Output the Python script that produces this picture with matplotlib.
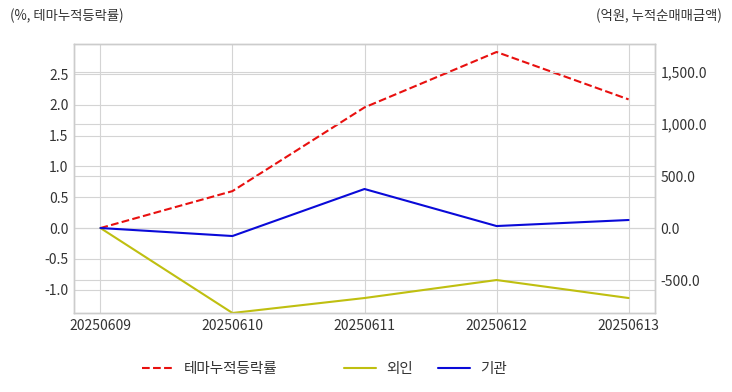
import matplotlib
matplotlib.use('Agg')
import matplotlib.pyplot as plt
import seaborn as sns
from matplotlib.ticker import FuncFormatter

sns.set_style('whitegrid')
plt.rcParams['font.family'] = ['Noto Sans CJK KR', 'DejaVu Sans']
plt.rcParams['axes.unicode_minus'] = False

DATES = ['20250609', '20250610', '20250611', '20250612', '20250613']
THEME_RET = [0.0, 0.60, 1.96, 2.86, 2.09]      # %, 테마누적등락률
FOREIGN = [0.0, -817.0, -673.0, -500.0, -673.0]  # 억원, 외인
INST = [0.0, -77.0, 375.0, 19.0, 77.0]           # 억원, 기관

TEXT_COLOR = '#333333'
GRID_COLOR = '#d4d4d4'

fig = plt.figure(figsize=(7.32, 3.92), dpi=100)
ax = fig.add_axes([74 / 732, 1 - 313 / 392, (655 - 74) / 732, (313 - 44) / 392])
ax2 = ax.twinx()

x = list(range(len(DATES)))
l1, = ax.plot(x, THEME_RET, color='#e8100f', linestyle='--', linewidth=1.5, label='테마누적등락률')
l2, = ax2.plot(x, FOREIGN, color='#bfbf10', linewidth=1.5, label='외인')
l3, = ax2.plot(x, INST, color='#0a0ad8', linewidth=1.5, label='기관')

ax.set_xlim(-0.2, 4.2)
ax.set_ylim(-1.38, 2.99)
ax2.set_ylim(-817, 1769)
ax.set_xticks(x)
ax.set_xticklabels(DATES)
ax.set_yticks([-1.0, -0.5, 0.0, 0.5, 1.0, 1.5, 2.0, 2.5])
ax.yaxis.set_major_formatter(FuncFormatter(lambda v, p: '%.1f' % v))
ax2.set_yticks([-500, 0, 500, 1000, 1500])
ax2.yaxis.set_major_formatter(FuncFormatter(lambda v, p: '{:,.1f}'.format(v)))

for a in (ax, ax2):
    a.grid(True, color=GRID_COLOR, linewidth=0.8)
    a.tick_params(axis='both', length=0, pad=4, labelsize=10, colors=TEXT_COLOR)
    for s in a.spines.values():
        s.set_color('#cccccc')
        s.set_linewidth(1.0)
ax2.grid(True, axis='y', color=GRID_COLOR, linewidth=0.8)
ax2.grid(False, axis='x')

fig.text(10 / 732, 1 - 16 / 392, '(%, 테마누적등락률)', fontsize=9.6, color=TEXT_COLOR, va='center', ha='left')
fig.text(722 / 732, 1 - 16 / 392, '(억원, 누적순매매금액)', fontsize=9.6, color=TEXT_COLOR, va='center', ha='right')

# legend entries placed one by one, as in the reference
for handle, left in ((l1, 136), (l2, 338), (l3, 432)):
    fig.legend(handles=[handle], loc='center left', bbox_to_anchor=(left / 732, 1 - 369 / 392),
               frameon=False, fontsize=10.5, handlelength=2.2, handletextpad=0.7,
               borderaxespad=0, labelcolor=TEXT_COLOR)

fig.savefig('out.png', dpi=100)
